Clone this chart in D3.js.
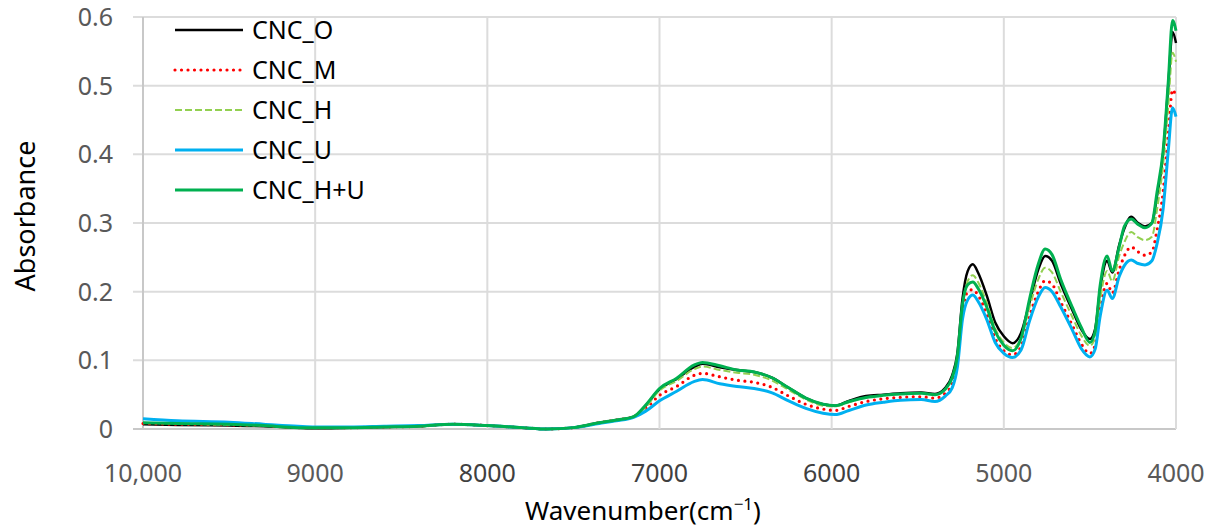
<!DOCTYPE html>
<html>
<head>
<meta charset="utf-8">
<script src="https://cdn.jsdelivr.net/npm/d3@7"></script>
<style>
  body { margin: 0; background: #fff; }
  text { font-family: "Noto Sans", "Open Sans", sans-serif; }
</style>
</head>
<body>
<div id="chart"></div>
<script>
// wavenumbers (cm-1), shared by all series
const wavenumber = [10000, 9800, 9500, 9300, 9100, 9000, 8800, 8600, 8400, 8200, 8000, 7800, 7650, 7500, 7350, 7250, 7150, 7080,
  7000, 6900, 6800, 6750, 6650, 6550, 6450, 6350, 6250, 6150, 6050, 5980, 5900, 5800, 5700, 5600, 5480, 5400, 5340, 5300,
  5270, 5240, 5210, 5180, 5150, 5100, 5050, 5000, 4950, 4900, 4850, 4800, 4760, 4720, 4670, 4600, 4550, 4500, 4470, 4440,
  4400, 4370, 4330, 4300, 4260, 4220, 4180, 4140, 4110, 4075, 4045, 4020, 4000];

const cncO = [0.007, 0.006, 0.005, 0.004, 0.002, 0.001, 0.002, 0.003, 0.004, 0.007, 0.005, 0.002, 0.000, 0.002, 0.009, 0.013, 0.018, 0.034,
  0.058, 0.073, 0.090, 0.095, 0.090, 0.086, 0.083, 0.075, 0.060, 0.045, 0.036, 0.034, 0.041, 0.048, 0.050, 0.052, 0.053, 0.051, 0.060, 0.078,
  0.110, 0.190, 0.230, 0.240, 0.228, 0.195, 0.155, 0.135, 0.125, 0.140, 0.185, 0.232, 0.252, 0.245, 0.212, 0.172, 0.145, 0.131, 0.145, 0.205,
  0.245, 0.228, 0.268, 0.292, 0.309, 0.300, 0.295, 0.300, 0.340, 0.400, 0.500, 0.578, 0.562];

const cncM = [0.008, 0.007, 0.006, 0.005, 0.002, 0.002, 0.002, 0.003, 0.004, 0.007, 0.005, 0.002, 0.000, 0.002, 0.009, 0.013, 0.018, 0.030,
  0.049, 0.062, 0.078, 0.081, 0.076, 0.071, 0.068, 0.061, 0.048, 0.036, 0.029, 0.027, 0.033, 0.040, 0.044, 0.046, 0.047, 0.045, 0.052, 0.066,
  0.098, 0.170, 0.200, 0.203, 0.195, 0.168, 0.132, 0.114, 0.108, 0.120, 0.165, 0.200, 0.216, 0.211, 0.185, 0.150, 0.124, 0.110, 0.122, 0.175,
  0.212, 0.198, 0.232, 0.252, 0.265, 0.258, 0.253, 0.258, 0.290, 0.345, 0.430, 0.494, 0.484];

const cncH = [0.009, 0.008, 0.006, 0.005, 0.002, 0.002, 0.002, 0.003, 0.004, 0.007, 0.005, 0.002, 0.000, 0.002, 0.009, 0.013, 0.018, 0.032,
  0.056, 0.070, 0.087, 0.091, 0.086, 0.082, 0.079, 0.071, 0.057, 0.043, 0.034, 0.033, 0.039, 0.046, 0.049, 0.051, 0.052, 0.050, 0.058, 0.074,
  0.105, 0.180, 0.215, 0.224, 0.214, 0.184, 0.146, 0.126, 0.118, 0.132, 0.178, 0.218, 0.235, 0.228, 0.200, 0.162, 0.136, 0.121, 0.134, 0.190,
  0.230, 0.215, 0.252, 0.272, 0.287, 0.279, 0.275, 0.280, 0.320, 0.385, 0.470, 0.548, 0.535];

const cncU = [0.015, 0.012, 0.010, 0.007, 0.004, 0.003, 0.003, 0.004, 0.005, 0.007, 0.005, 0.002, 0.000, 0.002, 0.008, 0.012, 0.017, 0.026,
  0.041, 0.055, 0.069, 0.072, 0.066, 0.062, 0.059, 0.053, 0.041, 0.030, 0.023, 0.021, 0.027, 0.035, 0.039, 0.042, 0.043, 0.040, 0.048, 0.060,
  0.090, 0.160, 0.188, 0.195, 0.186, 0.160, 0.126, 0.110, 0.104, 0.115, 0.158, 0.192, 0.206, 0.200, 0.178, 0.143, 0.117, 0.105, 0.116, 0.165,
  0.202, 0.190, 0.222, 0.238, 0.246, 0.241, 0.239, 0.245, 0.270, 0.320, 0.405, 0.468, 0.455];

const cncHU = [0.009, 0.008, 0.007, 0.005, 0.002, 0.002, 0.002, 0.003, 0.004, 0.007, 0.005, 0.002, 0.000, 0.002, 0.009, 0.013, 0.018, 0.035,
  0.059, 0.074, 0.093, 0.097, 0.092, 0.086, 0.083, 0.075, 0.060, 0.045, 0.036, 0.034, 0.040, 0.046, 0.049, 0.051, 0.052, 0.050, 0.058, 0.075,
  0.106, 0.182, 0.210, 0.214, 0.205, 0.178, 0.142, 0.122, 0.114, 0.132, 0.190, 0.240, 0.262, 0.254, 0.218, 0.176, 0.148, 0.126, 0.142, 0.210,
  0.252, 0.230, 0.265, 0.295, 0.306, 0.298, 0.293, 0.300, 0.345, 0.405, 0.505, 0.595, 0.580];

const seriesNames = ["CNC_O", "CNC_M", "CNC_H", "CNC_U", "CNC_H+U"];
const seriesValues = [cncO, cncM, cncH, cncU, cncHU];
const seriesColors = ["#000000", "#ff0000", "#92d050", "#00b0f0", "#00b050"];
const seriesDash = [null, "0,6.5", "7,3", null, null];
const seriesWidth = [2.5, 3.2, 2, 3, 3];

const xTicks = [10000, 9000, 8000, 7000, 6000, 5000, 4000];
const yTicks = [0, 0.1, 0.2, 0.3, 0.4, 0.5, 0.6];

const width = 1220, height = 531;
const margin = { top: 17, right: 44, bottom: 102, left: 143 };

const svg = d3.select("#chart").append("svg")
  .attr("width", width)
  .attr("height", height);

const x = d3.scaleLinear()
  .domain([10000, 4000])
  .range([margin.left, width - margin.right]);

const y = d3.scaleLinear()
  .domain([0, 0.6])
  .range([height - margin.bottom, margin.top]);

// gridlines
svg.append("g")
  .selectAll("line")
  .data(yTicks)
  .join("line")
  .attr("x1", margin.left - 10)
  .attr("x2", width - margin.right)
  .attr("y1", d => y(d))
  .attr("y2", d => y(d))
  .attr("stroke", d => d === 0 ? "#c8c8c8" : "#dcdcdc")
  .attr("stroke-width", 2);

svg.append("g")
  .selectAll("line")
  .data(xTicks)
  .join("line")
  .attr("x1", d => x(d))
  .attr("x2", d => x(d))
  .attr("y1", y(0.6))
  .attr("y2", y(0))
  .attr("stroke", d => d === 10000 ? "#c8c8c8" : "#dcdcdc")
  .attr("stroke-width", 2);

// tick labels
svg.append("g")
  .selectAll("text")
  .data(yTicks)
  .join("text")
  .attr("x", 113)
  .attr("y", d => y(d))
  .attr("dy", "0.36em")
  .attr("text-anchor", "end")
  .attr("fill", "#595959")
  .style("font-size", "25px")
  .text(d => d === 0 ? "0" : d.toFixed(1));

svg.append("g")
  .selectAll("text")
  .data(xTicks)
  .join("text")
  .attr("x", d => x(d))
  .attr("y", 482)
  .attr("text-anchor", "middle")
  .attr("fill", d => (d >= 9000 || d === 5000 || d === 4000) ? "#595959" : "#404040")
  .style("font-size", "25px")
  .text(d => d === 10000 ? "10,000" : d);

// lines
const line = d3.line()
  .x(d => x(d[0]))
  .y(d => y(d[1]))
  .curve(d3.curveMonotoneX);

seriesValues.forEach((vals, i) => {
  svg.append("path")
    .datum(wavenumber.map((w, j) => [w, vals[j]]))
    .attr("fill", "none")
    .attr("stroke", seriesColors[i])
    .attr("stroke-width", seriesWidth[i])
    .attr("stroke-linecap", seriesDash[i] === "0,6.5" ? "round" : "butt")
    .attr("stroke-linejoin", "round")
    .attr("stroke-dasharray", seriesDash[i])
    .attr("d", line);
});

// axis titles
svg.append("text")
  .attr("x", 643)
  .attr("y", 520)
  .attr("text-anchor", "middle")
  .attr("fill", "#000")
  .style("font-size", "26px")
  .html("Wavenumber(cm<tspan dy='-10' font-size='17px'>−1</tspan><tspan dy='10'>)</tspan>");

svg.append("text")
  .attr("transform", "translate(35,216) rotate(-90)")
  .attr("text-anchor", "middle")
  .attr("fill", "#000")
  .style("font-size", "27px")
  .text("Absorbance");

// legend
const legend = svg.append("g");
seriesNames.forEach((name, i) => {
  const ly = 30 + i * 40;
  legend.append("line")
    .attr("x1", 175).attr("x2", 243)
    .attr("y1", ly).attr("y2", ly)
    .attr("stroke", seriesColors[i])
    .attr("stroke-width", seriesWidth[i])
    .attr("stroke-linecap", seriesDash[i] === "0,6.5" ? "round" : "butt")
    .attr("stroke-dasharray", seriesDash[i]);
  legend.append("text")
    .attr("x", 252)
    .attr("y", ly)
    .attr("dy", "0.36em")
    .attr("fill", "#000")
    .style("font-size", "25px")
    .text(name);
});
</script>
</body>
</html>
